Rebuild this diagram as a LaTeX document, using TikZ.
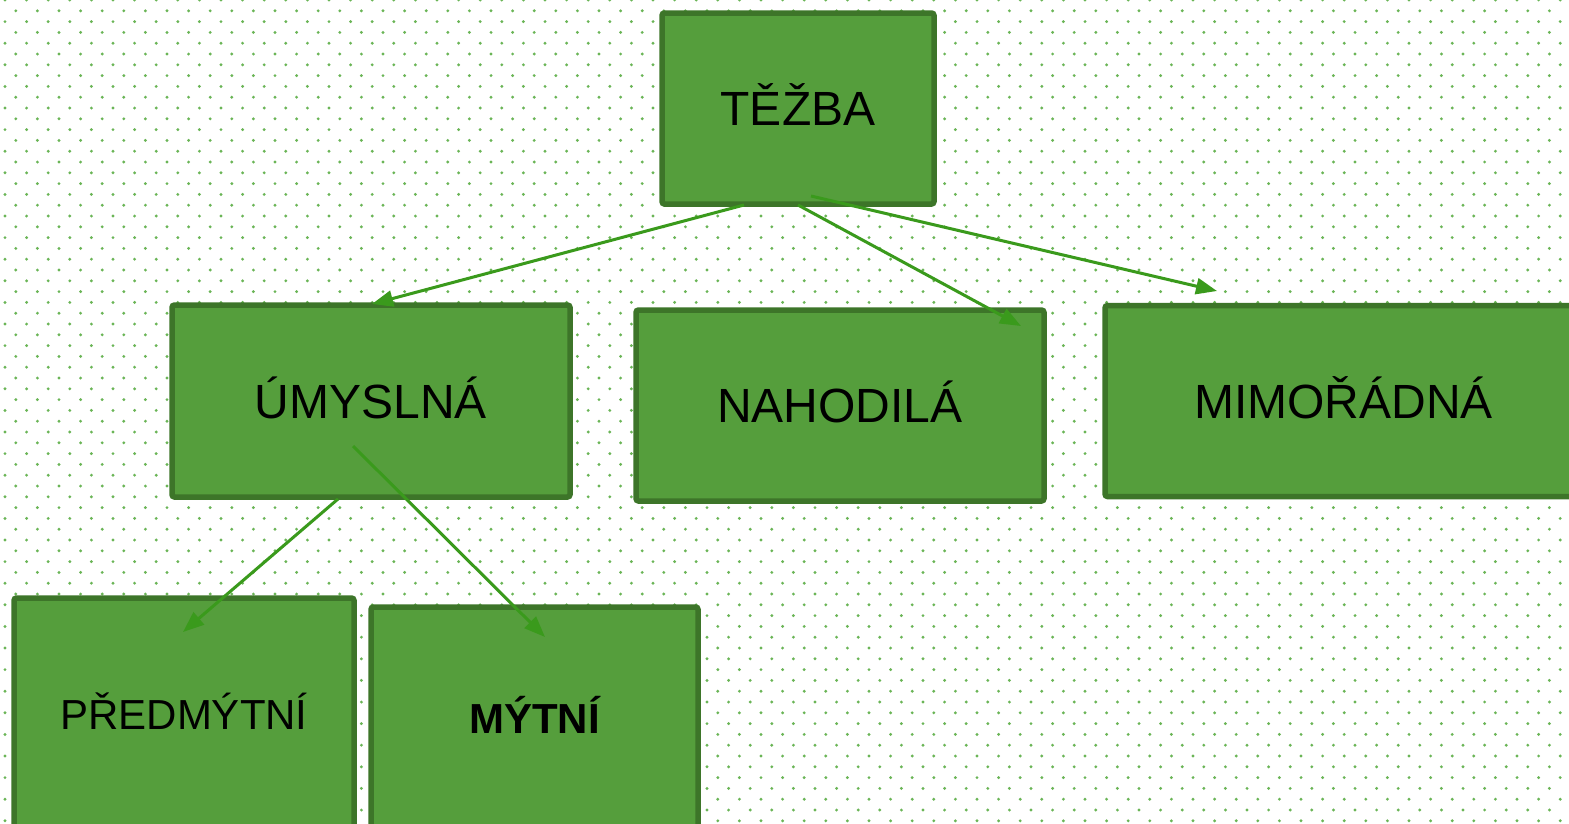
\documentclass[tikz,border=0pt]{standalone}
\usepackage{fontspec}
\setmainfont{Liberation Sans}
\usetikzlibrary{arrows.meta}
\definecolor{boxfill}{HTML}{559E3C}
\definecolor{boxline}{HTML}{3D7529}
\definecolor{arrowcol}{HTML}{3A9A1C}
\definecolor{dotcol}{HTML}{6AB556}
\begin{document}
\begin{tikzpicture}[x=1pt,y=-1pt,
  box/.style={draw=boxline, fill=boxfill, line width=5.5pt, rounded corners=2.5pt, inner sep=0pt, text=black},
  bigtext/.style={font=\fontsize{48}{56}\selectfont, text height=34.4pt, text depth=0pt},
  smalltext/.style={font=\fontsize{42}{50}\selectfont, text height=30.1pt, text depth=0pt},
  conn/.style={draw=arrowcol, line width=3pt, -{Triangle[length=21pt,width=16pt]}}
]
\useasboundingbox (0,0) rectangle (1569,823);
\clip (0,0) rectangle (1569,823);
\fill[white] (0,0) rectangle (1569,823);
\foreach \j [evaluate=\j as \off using {10.8*mod(\j,2)}] in {0,...,77} {
  \fill[dotcol] \foreach \i in {0,...,72} { ({5+21.6*\i+\off}, {10.8*\j}) circle (1.6) };
}

\node[box, bigtext, minimum width=272, minimum height=191] (tezba) at (798,108.5) {TĚŽBA};
\node[box, bigtext, minimum width=398, minimum height=192] (umysl) at (371,401) {ÚMYSLNÁ};
\node[box, bigtext, minimum width=408, minimum height=191] (nahod) at (840,405.5) {NAHODILÁ};
\node[box, bigtext, minimum width=477, minimum height=191] (mimo) at (1343.5,401) {MIMOŘÁDNÁ};
\node[box, smalltext, minimum width=340, minimum height=232] (pred) at (184,714) {PŘEDMÝTNÍ};
\node[box, smalltext, minimum width=327, minimum height=223] (myt) at (534.5,718.5) {\bfseries MÝTNÍ};

\coordinate (s1) at (744,205);  \coordinate (e1) at (372,304);
\coordinate (s2) at (798,205);  \coordinate (e2) at (1021,326);
\coordinate (s3) at (811,196);  \coordinate (e3) at (1217,291);
\coordinate (s4) at (338,499);  \coordinate (e4) at (183,632);
\coordinate (s5) at (353,446);  \coordinate (e5) at (545,637);

\draw[conn] (s1) -- (e1);
\draw[conn] (s2) -- (e2);
\draw[conn] (s3) -- (e3);
\draw[conn] (s4) -- (e4);
\draw[conn] (s5) -- (e5);
\end{tikzpicture}
\end{document}
